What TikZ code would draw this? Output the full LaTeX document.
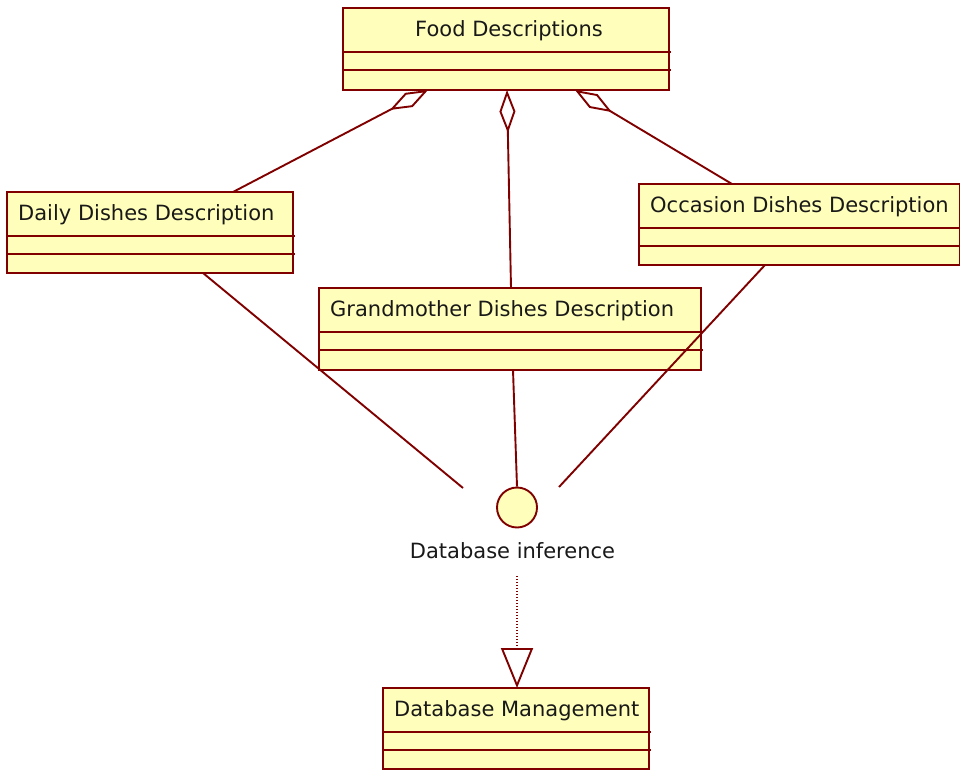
\documentclass[tikz,border=0pt]{standalone}
\usepackage{fontspec}
\setmainfont{DejaVu Sans}
\usetikzlibrary{arrows.meta,calc}
\definecolor{umlred}{RGB}{128,0,0}
\definecolor{umlfill}{RGB}{255,255,187}
\definecolor{txt}{RGB}{25,25,25}
\begin{document}
\begin{tikzpicture}[x=1pt,y=-1pt,
  cls/.style={draw=umlred, fill=umlfill, line width=1.9pt, anchor=north west, inner sep=0pt, outer sep=0pt},
  sepline/.style={draw=umlred, line width=1.9pt},
  ttl/.style={text=txt, inner sep=0pt, font=\fontsize{21}{24}\selectfont},
  conn/.style={draw=umlred, line width=1.9pt},
  aggr/.style={conn, -{Diamond[open, length=43pt, width=16pt, line width=1.9pt]}},
  gen/.style={draw=umlred, line width=1.4pt, dash pattern=on 1.2pt off 1.8pt, -{Triangle[open, length=40pt, width=32pt, line width=1.9pt]}}
]
\useasboundingbox (0,0) rectangle (960,770);

% classes
\node[cls, minimum width=326pt, minimum height=82pt] (food) at (343,8) {};
\draw[sepline] ($(food.north west)+(0,44)$) -- ++(328,0);
\draw[sepline] ($(food.north west)+(0,62)$) -- ++(328,0);
\node[ttl, anchor=base] (foodT) at (509,36.7) {Food Descriptions};

\node[cls, minimum width=286pt, minimum height=81pt] (daily) at (7,192) {};
\draw[sepline] ($(daily.north west)+(0,44)$) -- ++(288,0);
\draw[sepline] ($(daily.north west)+(0,62)$) -- ++(288,0);
\node[ttl, anchor=base west] (dailyT) at (18,220.7) {Daily Dishes Description};

\node[cls, minimum width=321pt, minimum height=81pt] (occ) at (639,184) {};
\draw[sepline] ($(occ.north west)+(0,44)$) -- ++(323,0);
\draw[sepline] ($(occ.north west)+(0,62)$) -- ++(323,0);
\node[ttl, anchor=base west] (occT) at (650,212.3) {Occasion Dishes Description};

\node[cls, minimum width=382pt, minimum height=82pt] (grand) at (319,288) {};
\draw[sepline] ($(grand.north west)+(0,44)$) -- ++(384,0);
\draw[sepline] ($(grand.north west)+(0,62)$) -- ++(384,0);
\node[ttl, anchor=base west] (grandT) at (330,316.7) {Grandmother Dishes Description};

\node[cls, minimum width=266pt, minimum height=81pt] (dbm) at (383,688) {};
\draw[sepline] ($(dbm.north west)+(0,44)$) -- ++(268,0);
\draw[sepline] ($(dbm.north west)+(0,62)$) -- ++(268,0);
\node[ttl, anchor=base west] (dbmT) at (394,716.7) {Database Management};

% interface
\node[draw=umlred, fill=umlfill, circle, minimum size=40pt, inner sep=0pt, line width=1.9pt] (iface) at (517,507.5) {};
\node[ttl, anchor=base] (ifaceT) at (512.5,558.3) {Database inference};
\coordinate (ifL) at (463,488);
\coordinate (ifR) at (559,487);

% aggregations
\draw[aggr] ($(daily.north west)+(226,0)$) -- ($(food.south west)+(85,0)$);
\draw[aggr] ($(grand.north west)+(192,0)$) -- ($(food.south west)+(164,0)$);
\draw[aggr] ($(occ.north west)+(93,0)$) -- ($(food.south west)+(232,0)$);

% realizations to interface
\draw[conn] ($(daily.south west)+(196,0)$) -- (ifL);
\draw[conn] ($(grand.south west)+(194,0)$) -- (iface.north);
\draw[conn] ($(occ.south west)+(126,0)$) -- (ifR);

% generalization
\draw[gen] ($(iface |- ifaceT.south)+(0,17)$) -- (iface |- dbm.north);
\end{tikzpicture}
\end{document}
